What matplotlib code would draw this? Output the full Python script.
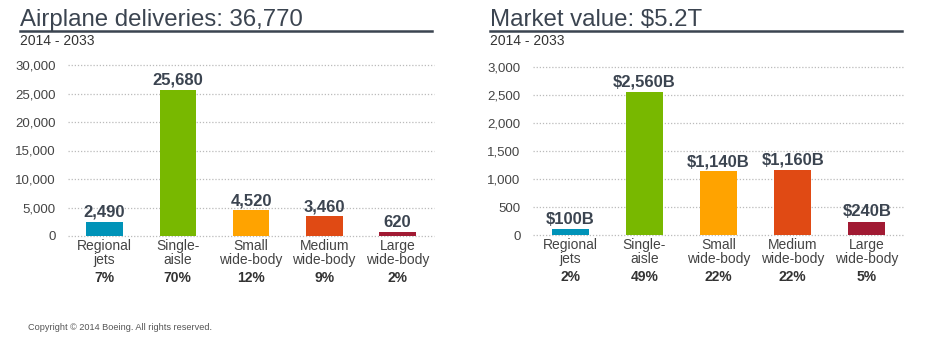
import matplotlib
matplotlib.use('Agg')
import matplotlib.pyplot as plt
from matplotlib.lines import Line2D
import matplotlib.transforms as mtransforms

plt.rcParams['font.family'] = ['Liberation Sans', 'DejaVu Sans']

# forecast data, 2014 - 2033
categories = ['Regional\njets', 'Single-\naisle', 'Small\nwide-body', 'Medium\nwide-body', 'Large\nwide-body']
colors = ['#0093B8', '#78B800', '#FFA300', '#E04A14', '#A11A33']

deliveries = [2490, 25680, 4520, 3460, 620]
delivery_share = ['7%', '70%', '12%', '9%', '2%']

market_value = [100, 2560, 1140, 1160, 240]   # $B
value_share = ['2%', '49%', '22%', '22%', '5%']

dark = '#3B4450'
W, H = 930, 340

fig = plt.figure(figsize=(W / 100, H / 100), dpi=100)


def px_axes(x0, x1, ytop, ybot):
    return fig.add_axes([x0 / W, 1 - ybot / H, (x1 - x0) / W, (ybot - ytop) / H])


def draw_panel(ax, values, shares, ymax, ystep, fmt):
    xs = range(len(values))
    ax.bar(xs, values, width=0.5, color=colors, zorder=3)
    ax.set_xlim(-0.5, len(values) - 0.5)
    ax.set_ylim(0, ymax)
    ticks = list(range(0, ymax + 1, ystep))
    ax.set_yticks(ticks)
    ax.set_yticklabels([f'{t:,}' for t in ticks], fontsize=9.5, color='#444444')
    ax.tick_params(axis='y', length=0, pad=9)
    ax.set_xticks([])
    for s in ax.spines.values():
        s.set_visible(False)
    for t in ticks:
        ax.axhline(t, color='#BBBBBB', linestyle=(0, (1, 1.5)), linewidth=0.9,
                   zorder=1, clip_on=False)
    trans = mtransforms.blended_transform_factory(ax.transData, ax.transAxes)
    for i, v in enumerate(values):
        ax.annotate(fmt(v), (i, v), xytext=(0, 1.5), textcoords='offset points',
                    ha='center', va='bottom', fontsize=12, fontweight='bold',
                    color=dark)
        ax.annotate(categories[i], (i, 0), xycoords=trans, xytext=(0, -2),
                    textcoords='offset points', ha='center', va='top',
                    fontsize=10, color='#444444', linespacing=1.0)
        ax.annotate(shares[i], (i, 0), xycoords=trans, xytext=(0, -25),
                    textcoords='offset points', ha='center', va='top',
                    fontsize=10, fontweight='bold', color='#333333')


def header(x0, x1, title):
    fig.text(x0 / W, 1 - 26 / H, title, fontsize=17.3, color=dark, va='baseline')
    fig.add_artist(Line2D([x0 / W, x1 / W], [1 - 30.5 / H, 1 - 30.5 / H],
                          color=dark, linewidth=1.8))
    fig.text(x0 / W, 1 - 41 / H, '2014 - 2033', fontsize=10, color='#333333',
             va='center')


header(20, 432, 'Airplane deliveries: 36,770')
header(490, 902, 'Market value: $5.2T')

ax1 = px_axes(68, 434, 65, 236)
draw_panel(ax1, deliveries, delivery_share, 30000, 5000, lambda v: f'{v:,}')

ax2 = px_axes(533, 904, 67, 235)
draw_panel(ax2, market_value, value_share, 3000, 500, lambda v: f'${v:,}B')

fig.text(28 / W, 1 - 327 / H, 'Copyright \u00a9 2014 Boeing. All rights reserved.',
         fontsize=6.6, color='#555555', va='center')

fig.savefig('out.png', dpi=100)
